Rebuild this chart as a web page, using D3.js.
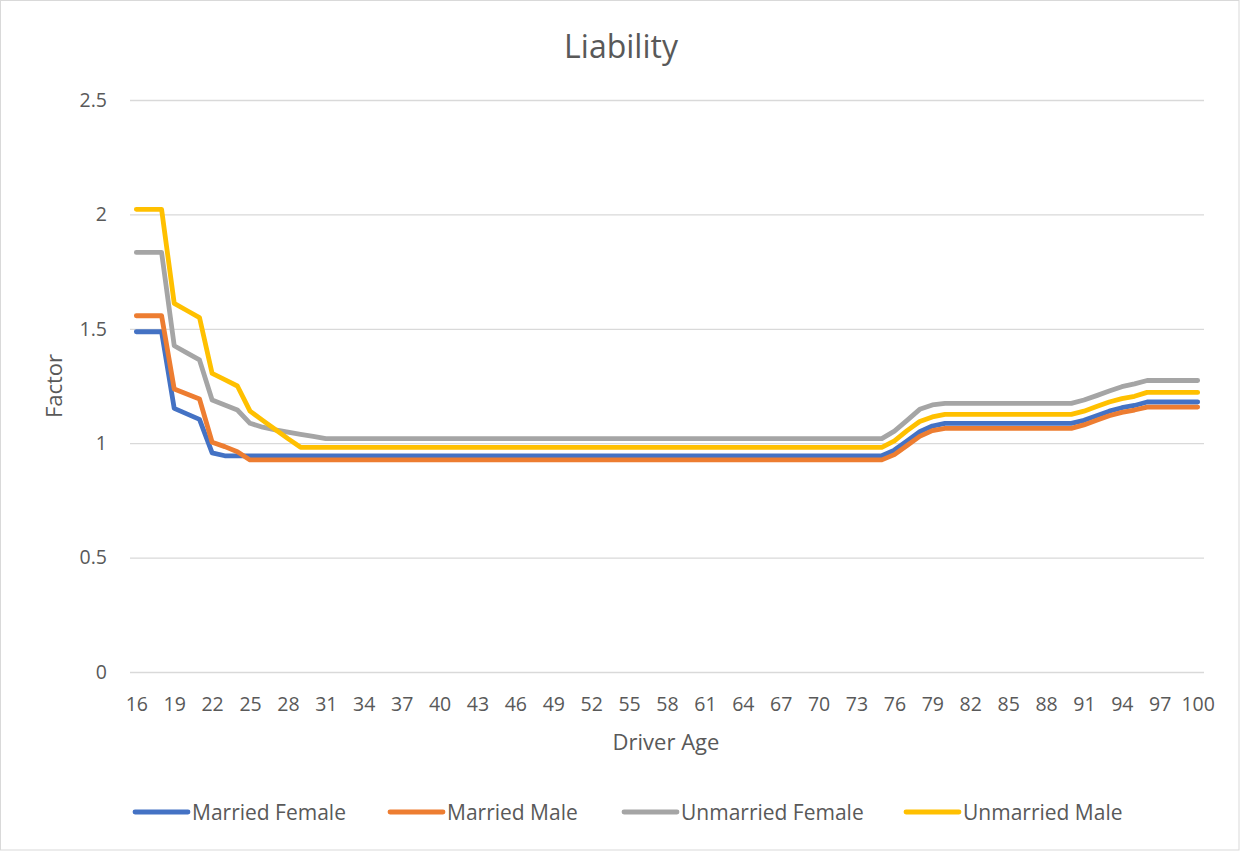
<!DOCTYPE html>
<html>
<head>
<meta charset="utf-8">
<script src="https://cdn.jsdelivr.net/npm/d3@7"></script>
<style>
  html, body { margin: 0; padding: 0; background: #fff; }
  svg { display: block; }
  text { font-family: "Open Sans", "Noto Sans", sans-serif; fill: #595959; }
</style>
</head>
<body>
<svg id="chart" width="1240" height="851"></svg>
<script>
const ages = [16,17,18,19,20,21,22,23,24,25,26,27,28,29,30,31,32,33,34,35,36,37,38,39,40,41,42,43,44,45,46,47,48,49,50,51,52,53,54,55,56,57,58,59,60,61,62,63,64,65,66,67,68,69,70,71,72,73,74,75,76,77,78,79,80,81,82,83,84,85,86,87,88,89,90,91,92,93,94,95,96,97,98,99,100];

const marriedFemale = [1.487,1.487,1.487,1.152,1.128,1.104,0.958,0.945,0.945,0.945,0.945,0.945,0.945,0.945,0.945,0.945,0.945,0.945,0.945,0.945,0.945,0.945,0.945,0.945,0.945,0.945,0.945,0.945,0.945,0.945,0.945,0.945,0.945,0.945,0.945,0.945,0.945,0.945,0.945,0.945,0.945,0.945,0.945,0.945,0.945,0.945,0.945,0.945,0.945,0.945,0.945,0.945,0.945,0.945,0.945,0.945,0.945,0.945,0.945,0.945,0.970,1.010,1.050,1.075,1.087,1.087,1.087,1.087,1.087,1.087,1.087,1.087,1.087,1.087,1.087,1.100,1.120,1.140,1.155,1.165,1.180,1.180,1.180,1.180,1.180];

const marriedMale = [1.557,1.557,1.557,1.237,1.215,1.193,1.004,0.985,0.963,0.927,0.927,0.927,0.927,0.927,0.927,0.927,0.927,0.927,0.927,0.927,0.927,0.927,0.927,0.927,0.927,0.927,0.927,0.927,0.927,0.927,0.927,0.927,0.927,0.927,0.927,0.927,0.927,0.927,0.927,0.927,0.927,0.927,0.927,0.927,0.927,0.927,0.927,0.927,0.927,0.927,0.927,0.927,0.927,0.927,0.927,0.927,0.927,0.927,0.927,0.927,0.950,0.990,1.030,1.055,1.065,1.065,1.065,1.065,1.065,1.065,1.065,1.065,1.065,1.065,1.065,1.080,1.100,1.120,1.135,1.145,1.158,1.158,1.158,1.158,1.158];

const unmarriedFemale = [1.834,1.834,1.834,1.426,1.395,1.364,1.189,1.167,1.145,1.087,1.070,1.058,1.048,1.039,1.030,1.020,1.020,1.020,1.020,1.020,1.020,1.020,1.020,1.020,1.020,1.020,1.020,1.020,1.020,1.020,1.020,1.020,1.020,1.020,1.020,1.020,1.020,1.020,1.020,1.020,1.020,1.020,1.020,1.020,1.020,1.020,1.020,1.020,1.020,1.020,1.020,1.020,1.020,1.020,1.020,1.020,1.020,1.020,1.020,1.020,1.053,1.100,1.148,1.167,1.174,1.174,1.174,1.174,1.174,1.174,1.174,1.174,1.174,1.174,1.174,1.189,1.208,1.228,1.247,1.259,1.274,1.274,1.274,1.274,1.274];

const unmarriedMale = [2.022,2.022,2.022,1.611,1.580,1.549,1.305,1.278,1.250,1.140,1.100,1.060,1.020,0.982,0.982,0.982,0.982,0.982,0.982,0.982,0.982,0.982,0.982,0.982,0.982,0.982,0.982,0.982,0.982,0.982,0.982,0.982,0.982,0.982,0.982,0.982,0.982,0.982,0.982,0.982,0.982,0.982,0.982,0.982,0.982,0.982,0.982,0.982,0.982,0.982,0.982,0.982,0.982,0.982,0.982,0.982,0.982,0.982,0.982,0.982,1.010,1.055,1.095,1.115,1.126,1.126,1.126,1.126,1.126,1.126,1.126,1.126,1.126,1.126,1.126,1.140,1.160,1.180,1.195,1.205,1.222,1.222,1.222,1.222,1.222];

const seriesNames = ["Married Female", "Married Male", "Unmarried Female", "Unmarried Male"];
const seriesColors = ["#4472C4", "#ED7D31", "#A5A5A5", "#FFC000"];
const yTicks = [0, 0.5, 1, 1.5, 2, 2.5];
const xTickLabels = [16,19,22,25,28,31,34,37,40,43,46,49,52,55,58,61,64,67,70,73,76,79,82,85,88,91,94,97,100];
const titleText = "Liability";
const xTitle = "Driver Age";
const yTitle = "Factor";

const seriesData = [marriedFemale, marriedMale, unmarriedFemale, unmarriedMale];

const svg = d3.select("#chart");
const W = 1240, H = 851;
const plot = { left: 130, right: 1204, top: 100, bottom: 672 };

// chart border
svg.append("rect").attr("x", 0.5).attr("y", 0.5).attr("width", W - 1.5).attr("height", H - 1.5)
  .attr("fill", "#fff").attr("stroke", "#d9d9d9").attr("stroke-width", 1);

const x = d3.scalePoint().domain(ages).range([plot.left, plot.right]).padding(0.5);
const y = d3.scaleLinear().domain([0, 2.5]).range([plot.bottom, plot.top]);

// gridlines + y labels
const yAxis = d3.axisLeft(y).tickValues(yTicks).tickSize(-(plot.right - plot.left)).tickPadding(23)
  .tickFormat(d => String(d));
const gy = svg.append("g").attr("transform", `translate(${plot.left},0)`).call(yAxis);
gy.select(".domain").remove();
gy.selectAll(".tick line").attr("stroke", "#d9d9d9").attr("stroke-width", 1.3);
gy.selectAll(".tick text").style("font-size", "19.5px").attr("fill", "#595959");

// x axis labels
const xAxis = d3.axisBottom(x).tickValues(xTickLabels).tickSize(0).tickPadding(25);
const gx = svg.append("g").attr("transform", `translate(0,${plot.bottom})`).call(xAxis);
gx.select(".domain").remove();
gx.selectAll(".tick text").style("font-size", "19.5px").attr("fill", "#595959");

// lines
const line = d3.line().x((d, i) => x(ages[i])).y(d => y(d));
seriesData.forEach((vals, k) => {
  svg.append("path").datum(vals).attr("d", line)
    .attr("fill", "none").attr("stroke", seriesColors[k]).attr("stroke-width", 4.8)
    .attr("stroke-linejoin", "round").attr("stroke-linecap", "round");
});

// title
svg.append("text").attr("x", 621).attr("y", 58).attr("text-anchor", "middle")
  .style("font-size", "32px").text(titleText);

// axis titles
svg.append("text").attr("x", 666).attr("y", 750).attr("text-anchor", "middle")
  .style("font-size", "22px").text(xTitle);
svg.append("text").attr("transform", "translate(62,386) rotate(-90)").attr("text-anchor", "middle")
  .style("font-size", "22px").text(yTitle);

// legend
const legendX = [135, 390, 624, 906];
seriesNames.forEach((name, k) => {
  const g = svg.append("g").attr("transform", `translate(${legendX[k]},812)`);
  g.append("line").attr("x1", 0).attr("x2", 53).attr("y1", 0).attr("y2", 0)
    .attr("stroke", seriesColors[k]).attr("stroke-width", 4.8).attr("stroke-linecap", "round");
  g.append("text").attr("x", 57).attr("y", 7.5).style("font-size", "21px").text(name);
});
</script>
</body>
</html>
